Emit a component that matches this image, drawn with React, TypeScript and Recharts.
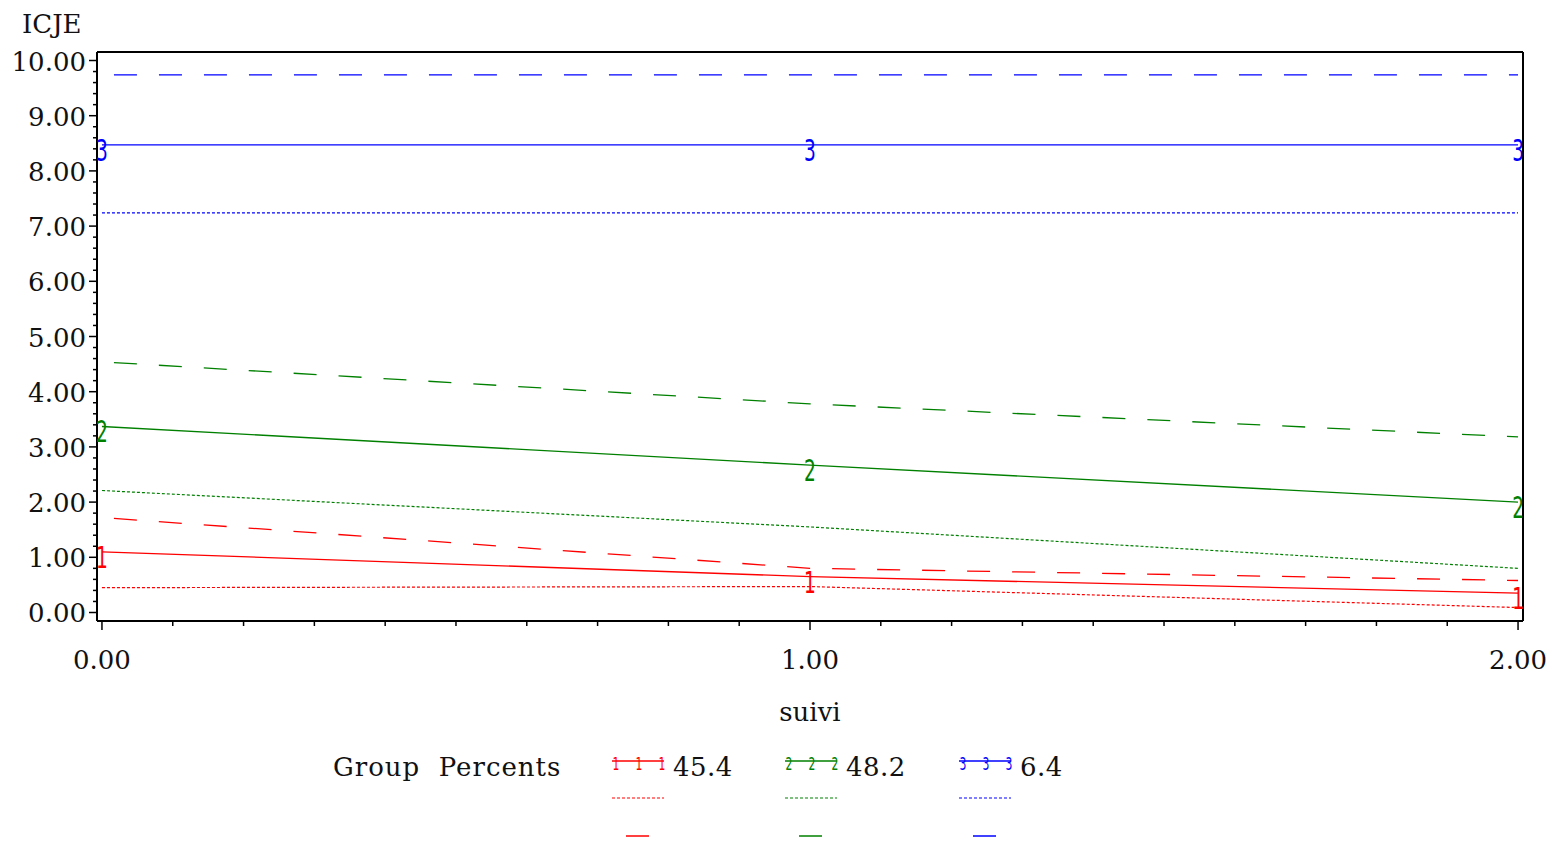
import React from "react";
import { LineChart, Line, XAxis, YAxis, ReferenceLine } from "recharts";

// follow-up time points
const suivi = [0, 1, 2];

// group 1 (45.4 %)
const g1Pred = [1.1, 0.65, 0.35];
const g1Lower = [0.45, 0.47, 0.09];
const g1Upper = [1.72, 0.8, 0.58];
// group 2 (48.2 %)
const g2Pred = [3.37, 2.67, 2.0];
const g2Lower = [2.21, 1.55, 0.8];
const g2Upper = [4.54, 3.78, 3.18];
// group 3 (6.4 %)
const g3Pred = [8.47, 8.47, 8.47];
const g3Lower = [7.24, 7.24, 7.24];
const g3Upper = [9.74, 9.74, 9.74];

const groupIds = ["1", "2", "3"];
const groupPercents = ["45.4", "48.2", "6.4"];
const groupColors = ["#ff0000", "#008000", "#0000ff"];

const xMajorTicks = [0, 1, 2];
const yMajorTicks = [0, 1, 2, 3, 4, 5, 6, 7, 8, 9, 10];

const withMinor = (majors: number[], parts: number) => {
  const out: number[] = [];
  for (let i = 0; i < majors.length; i++) {
    out.push(majors[i]);
    if (i < majors.length - 1) {
      const step = (majors[i + 1] - majors[i]) / parts;
      for (let k = 1; k < parts; k++) out.push(+(majors[i] + k * step).toFixed(4));
    }
  }
  return out;
};
const xTicks = withMinor(xMajorTicks, 10);
const yTicks = withMinor(yMajorTicks, 5);

const data = suivi.map((s, i) => ({
  suivi: s,
  g1p: g1Pred[i],
  g1l: g1Lower[i],
  g1u: g1Upper[i],
  g2p: g2Pred[i],
  g2l: g2Lower[i],
  g2u: g2Upper[i],
  g3p: g3Pred[i],
  g3l: g3Lower[i],
  g3u: g3Upper[i],
}));

const SERIF = "'DejaVu Serif', serif";
const MARK = "'DejaVu Sans', sans-serif";
const X_DOMAIN: [number, number] = [-0.007, 2.007];
const Y_DOMAIN: [number, number] = [-0.154, 10.154];
const DASH = "23 22";
const DOT = "3 2";

const XTick = (props: any) => {
  const { x, y, payload } = props;
  const major = xMajorTicks.includes(payload.value);
  return (
    <g>
      <line x1={x} x2={x} y1={y} y2={y + (major ? 9 : 5)} stroke="#000" strokeWidth={1.5} />
      {major && (
        <text x={x} y={y + 48} textAnchor="middle" fontFamily={SERIF} fontSize={26} fill="#111">
          {payload.value.toFixed(2)}
        </text>
      )}
    </g>
  );
};

const YTick = (props: any) => {
  const { x, y, payload } = props;
  const major = yMajorTicks.includes(payload.value);
  return (
    <g>
      <line x1={x - (major ? 8 : 4)} x2={x} y1={y} y2={y} stroke="#000" strokeWidth={1.5} />
      {major && (
        <text x={x - 11} y={y + 10} textAnchor="end" fontFamily={SERIF} fontSize={26} fill="#111">
          {payload.value.toFixed(2)}
        </text>
      )}
    </g>
  );
};

const markerDot = (label: string, color: string) => (props: any) => {
  const { cx, cy, index } = props;
  return (
    <text
      key={`m-${label}-${index}`}
      transform={`translate(${cx} ${cy + 16}) scale(0.6 1)`}
      textAnchor="middle"
      fontFamily={MARK}
      fontSize={31}
      fill={color}
    >
      {label}
    </text>
  );
};

const Overlay = () => {
  const sampleX = [612, 785, 959];
  return (
    <svg
      width={1566}
      height={842}
      style={{ position: "absolute", left: 0, top: 0, pointerEvents: "none" }}
    >
      <text x={22} y={33} fontFamily={SERIF} fontSize={26} fill="#111">
        ICJE
      </text>
      <text
        x={333}
        y={776}
        fontFamily={SERIF}
        fontSize={26}
        fill="#111"
        letterSpacing={1}
        style={{ whiteSpace: "pre" }}
      >
        {"Group  Percents"}
      </text>
      {groupIds.map((id, i) => {
        const x0 = sampleX[i];
        const c = groupColors[i];
        return (
          <g key={id}>
            <line x1={x0} x2={x0 + 52} y1={761} y2={761} stroke={c} strokeWidth={1.5} />
            {[4, 27, 50].map((dx) => (
              <text
                key={dx}
                transform={`translate(${x0 + dx} 770) scale(0.6 1)`}
                textAnchor="middle"
                fontFamily={MARK}
                fontSize={18}
                fill={c}
              >
                {id}
              </text>
            ))}
            <text x={x0 + 61} y={776} fontFamily={SERIF} fontSize={26} fill="#111" letterSpacing={0.5}>
              {groupPercents[i]}
            </text>
            <line x1={x0} x2={x0 + 52} y1={798} y2={798} stroke={c} strokeWidth={1.2} strokeDasharray={DOT} />
            <line x1={x0 + 14} x2={x0 + 37} y1={836} y2={836} stroke={c} strokeWidth={1.5} />
          </g>
        );
      })}
    </svg>
  );
};

export default function App() {
  const series = [
    { p: "g1p", l: "g1l", u: "g1u" },
    { p: "g2p", l: "g2l", u: "g2u" },
    { p: "g3p", l: "g3l", u: "g3u" },
  ];
  return (
    <div style={{ position: "absolute", left: 0, top: 0, width: 1566, height: 842, background: "#fff" }}>
      <LineChart width={1566} height={842} data={data} margin={{ top: 52, right: 43, left: 0, bottom: 111 }}>
        <XAxis
          dataKey="suivi"
          type="number"
          domain={X_DOMAIN}
          allowDataOverflow
          ticks={xTicks}
          interval={0}
          tick={<XTick />}
          tickLine={false}
          tickSize={0}
          tickMargin={0}
          height={110}
          axisLine={{ stroke: "#000", strokeWidth: 2 }}
          label={{
            value: "suivi",
            position: "insideBottom",
            offset: 10,
            fontFamily: SERIF,
            fontSize: 26,
            fill: "#111",
          }}
        />
        <YAxis
          type="number"
          domain={Y_DOMAIN}
          allowDataOverflow
          ticks={yTicks}
          interval={0}
          tick={<YTick />}
          tickLine={false}
          tickSize={0}
          tickMargin={0}
          width={97}
          axisLine={{ stroke: "#000", strokeWidth: 2 }}
        />
        <ReferenceLine y={Y_DOMAIN[1]} stroke="#000" strokeWidth={2} ifOverflow="visible" />
        <ReferenceLine x={X_DOMAIN[1]} stroke="#000" strokeWidth={2} ifOverflow="visible" />
        {series.map((s, i) => (
          <Line
            key={s.u}
            type="linear"
            dataKey={s.u}
            stroke={groupColors[i]}
            strokeWidth={1.3}
            strokeDasharray={DASH}
            strokeDashoffset={33}
            dot={false}
            activeDot={false}
            isAnimationActive={false}
          />
        ))}
        {series.map((s, i) => (
          <Line
            key={s.l}
            type="linear"
            dataKey={s.l}
            stroke={groupColors[i]}
            strokeWidth={1.2}
            strokeDasharray={DOT}
            dot={false}
            activeDot={false}
            isAnimationActive={false}
          />
        ))}
        {series.map((s, i) => (
          <Line
            key={s.p}
            type="linear"
            dataKey={s.p}
            stroke={groupColors[i]}
            strokeWidth={1.3}
            dot={markerDot(groupIds[i], groupColors[i])}
            activeDot={false}
            isAnimationActive={false}
          />
        ))}
      </LineChart>
      <Overlay />
    </div>
  );
}
